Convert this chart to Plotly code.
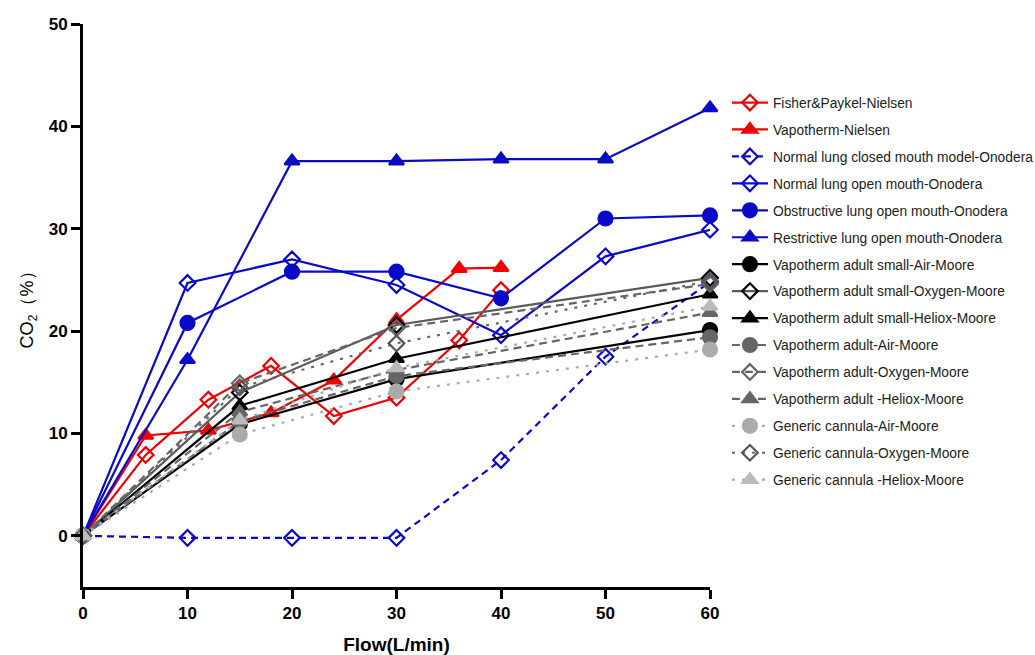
import plotly.graph_objects as go

# ---------------- data ----------------
x_fp = [0, 6, 12, 18, 24, 30, 36, 40]
fp_nielsen = [0, 7.9, 13.3, 16.6, 11.7, 13.5, 19.1, 24.0]

x_vn = [0, 6, 12, 18, 24, 30, 36, 40]
vapotherm_nielsen = [0, 9.8, 10.3, 12.0, 15.2, 21.1, 26.1, 26.2]

x_on = [0, 10, 20, 30, 40, 50, 60]
normal_closed = [0, -0.2, -0.2, -0.2, 7.4, 17.5, 24.8]
normal_open = [0, 24.7, 27.0, 24.5, 19.6, 27.3, 29.9]
obstructive_open = [0, 20.8, 25.8, 25.8, 23.2, 31.0, 31.3]
restrictive_open = [0, 17.2, 36.6, 36.6, 36.8, 36.8, 41.8]

x_moore = [0, 15, 30, 60]
vs_air = [0, 10.9, 15.3, 20.1]
vs_oxy = [0, 14.0, 20.6, 25.2]
vs_hel = [0, 12.7, 17.3, 23.6]
va_air = [0, 11.2, 15.6, 19.4]
va_oxy = [0, 14.9, 20.3, 24.6]
va_hel = [0, 12.1, 16.2, 21.8]
gc_air = [0, 9.9, 14.1, 18.2]
gc_oxy = [0, 14.5, 18.8, 24.9]
gc_hel = [0, 11.3, 16.4, 22.4]

names = [
    "Fisher&Paykel-Nielsen",
    "Vapotherm-Nielsen",
    "Normal lung closed mouth model-Onodera",
    "Normal lung open mouth-Onodera",
    "Obstructive lung open mouth-Onodera",
    "Restrictive lung open mouth-Onodera",
    "Vapotherm adult small-Air-Moore",
    "Vapotherm adult small-Oxygen-Moore",
    "Vapotherm adult small-Heliox-Moore",
    "Vapotherm adult-Air-Moore",
    "Vapotherm adult-Oxygen-Moore",
    "Vapotherm adult -Heliox-Moore",
    "Generic cannula-Air-Moore",
    "Generic cannula-Oxygen-Moore",
    "Generic cannula -Heliox-Moore",
]

RED = "#f00000"
BLUE = "#0a0ac8"
BLACK = "#000000"
DGRAY = "#666666"
LGRAY = "#ababab"
DOT = "3px,7px"
DASH = "8px,5px"

specs = [
    (x_fp, fp_nielsen, RED, "solid", "diamond-open", RED, 12),
    (x_vn, vapotherm_nielsen, RED, "solid", "triangle-up", RED, 13),
    (x_on, normal_closed, BLUE, "7px,5px", "diamond-open", BLUE, 12),
    (x_on, normal_open, BLUE, "solid", "diamond-open", BLUE, 12),
    (x_on, obstructive_open, BLUE, "solid", "circle", BLUE, 14),
    (x_on, restrictive_open, BLUE, "solid", "triangle-up", BLUE, 13),
    (x_moore, vs_air, BLACK, "solid", "circle", BLACK, 14),
    (x_moore, vs_oxy, "#5a5a5a", "solid", "diamond-open", BLACK, 12),
    (x_moore, vs_hel, BLACK, "solid", "triangle-up", BLACK, 13),
    (x_moore, va_air, DGRAY, DASH, "circle", DGRAY, 14),
    (x_moore, va_oxy, DGRAY, DASH, "diamond-open", DGRAY, 12),
    (x_moore, va_hel, DGRAY, DASH, "triangle-up", DGRAY, 13),
    (x_moore, gc_air, LGRAY, DOT, "circle", LGRAY, 14),
    (x_moore, gc_oxy, DGRAY, DOT, "diamond-open", "#555555", 12),
    (x_moore, gc_hel, LGRAY, DOT, "triangle-up", "#bbbbbb", 13),
]

fig = go.Figure()
for i, (xs, ys, lc, dash, sym, mc, ms) in enumerate(specs):
    fig.add_trace(go.Scatter(
        x=xs, y=ys, name=names[i], mode="lines+markers",
        line=dict(color=lc, width=2.2, dash=dash),
        marker=dict(symbol=sym, size=ms, color=mc,
                    line=dict(width=2.2, color=mc)),
        legendgroup=f"g{i}", cliponaxis=False,
    ))

FONT = "Arial, Liberation Sans, sans-serif"
axis_font = dict(family=FONT, size=17, color="black", weight="bold")

fig.update_layout(
    width=1035, height=655,
    margin=dict(l=83, r=325, t=24, b=68, autoexpand=False),
    paper_bgcolor="white", plot_bgcolor="white",
    showlegend=True,
    legend=dict(
        x=1.027, y=0.888, xanchor="left", yanchor="top",
        font=dict(family=FONT, size=13.8, color="#222222"),
        tracegroupgap=6, itemwidth=36, bgcolor="rgba(0,0,0,0)",
    ),
    xaxis=dict(
        range=[0, 60], tickvals=[0, 10, 20, 30, 40, 50, 60],
        showline=True, linecolor="black", linewidth=3,
        ticks="outside", ticklen=9, tickwidth=3, tickcolor="black",
        showgrid=False, zeroline=False, tickfont=axis_font,
        automargin=False,
        title=dict(text="Flow(L/min)", standoff=24,
                   font=dict(family=FONT, size=19, color="black", weight="bold")),
    ),
    yaxis=dict(
        range=[-5, 50], tickvals=[0, 10, 20, 30, 40, 50],
        showline=True, linecolor="black", linewidth=3,
        ticks="outside", ticklen=9, tickwidth=3, tickcolor="black",
        showgrid=False, zeroline=False, tickfont=axis_font,
        automargin=False,
        title=dict(text="CO<sub>2</sub>（%）", standoff=11,
                   font=dict(family=FONT, size=18, color="black")),
    ),
)

# remove the default 8px page margin so the figure fills the window exactly
fig.write_html("out.html", config={"displayModeBar": False},
               post_script="document.body.style.margin='0px';")
